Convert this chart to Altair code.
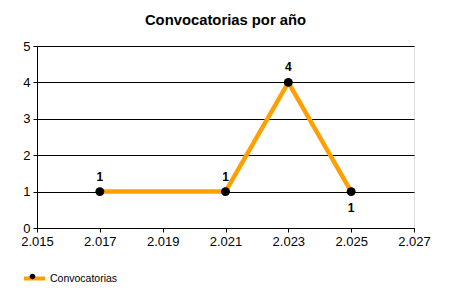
import altair as alt
import pandas as pd

ANIOS = [2017, 2021, 2023, 2025]
CONVOCATORIAS = [1, 1, 4, 1]
SERIE = ["Convocatorias"] * len(ANIOS)
X_TICKS = [2015, 2017, 2019, 2021, 2023, 2025, 2027]
Y_TICKS = [0, 1, 2, 3, 4, 5]
TITULO = "Convocatorias por año"

df = pd.DataFrame({"anio": ANIOS, "valor": CONVOCATORIAS, "serie": SERIE})

FONT = "Liberation Sans"
NARANJA = "#FFA000"

x = alt.X(
    "anio:Q",
    scale=alt.Scale(domain=[X_TICKS[0], X_TICKS[-1]], nice=False, zero=False),
    axis=alt.Axis(
        values=X_TICKS, title=None, grid=False,
        labelExpr="replace(format(datum.value, ','), ',', '.')",
        labelFont=FONT, labelFontSize=13, labelColor="black",
        domainColor="black", tickColor="black", tickSize=4, labelPadding=3,
        labelFlush=False,
    ),
)
y = alt.Y(
    "valor:Q",
    scale=alt.Scale(domain=[Y_TICKS[0], Y_TICKS[-1]], nice=False),
    axis=alt.Axis(
        values=Y_TICKS, title=None, grid=True, gridColor="black", gridOpacity=1,
        gridWidth=1, labelFont=FONT, labelFontSize=13, labelColor="black",
        domainColor="black", tickColor="black", tickSize=4, labelPadding=3,
        labelFlush=False,
    ),
)

LEG_X, LEG_Y = -15, 220

linea = alt.Chart(df).mark_line(strokeWidth=4.5).encode(
    x=x, y=y,
    stroke=alt.Stroke(
        "serie:N",
        scale=alt.Scale(range=[NARANJA]),
        legend=alt.Legend(
            title=None, orient="none", legendX=LEG_X, legendY=LEG_Y,
            symbolType="stroke", symbolSize=441, symbolStrokeWidth=4,
            labelFont=FONT, labelFontSize=10.5, labelColor="black",
            padding=0, labelOffset=3,
        ),
    ),
)

puntos = alt.Chart(df).transform_calculate(serie_p="datum.serie").mark_circle(
    size=80, opacity=1
).encode(
    x=x, y=y,
    fill=alt.Fill(
        "serie_p:N",
        scale=alt.Scale(range=["black"]),
        legend=alt.Legend(
            title=None, orient="none", legendX=LEG_X, legendY=LEG_Y,
            symbolType="M-0.27,0A0.27,0.27 0 1,1 0.27,0A0.27,0.27 0 1,1 -0.27,0Z",
            symbolSize=441, symbolStrokeWidth=0, symbolOpacity=1,
            labelFont=FONT, labelFontSize=10.5, labelOpacity=0,
            padding=0, labelOffset=3,
        ),
    ),
)

etiq_arriba = alt.Chart(df).transform_filter("datum.anio < 2025").mark_text(
    font=FONT, fontSize=12, fontWeight="bold", color="black", dy=-15
).encode(x=x, y=y, text="valor:Q")

etiq_abajo = alt.Chart(df).transform_filter("datum.anio >= 2025").mark_text(
    font=FONT, fontSize=12, fontWeight="bold", color="black", dy=16
).encode(x=x, y=y, text="valor:Q")

chart = alt.layer(linea, puntos, etiq_arriba, etiq_abajo).resolve_scale(
    stroke="independent", fill="independent"
).properties(
    width=377, height=182,
    title=alt.Title(
        TITULO, font=FONT, fontSize=14.8, fontWeight="bold", color="black",
        anchor="middle", frame="group", offset=0, baseline="alphabetic",
    ),
    autosize=alt.AutoSizeParams(type="none"),
    padding={"left": 37, "top": 46, "right": 36, "bottom": 72},
).configure_view(stroke=None).configure(background="white")

chart.save("out.html", embed_options={"renderer": "svg", "actions": False})
